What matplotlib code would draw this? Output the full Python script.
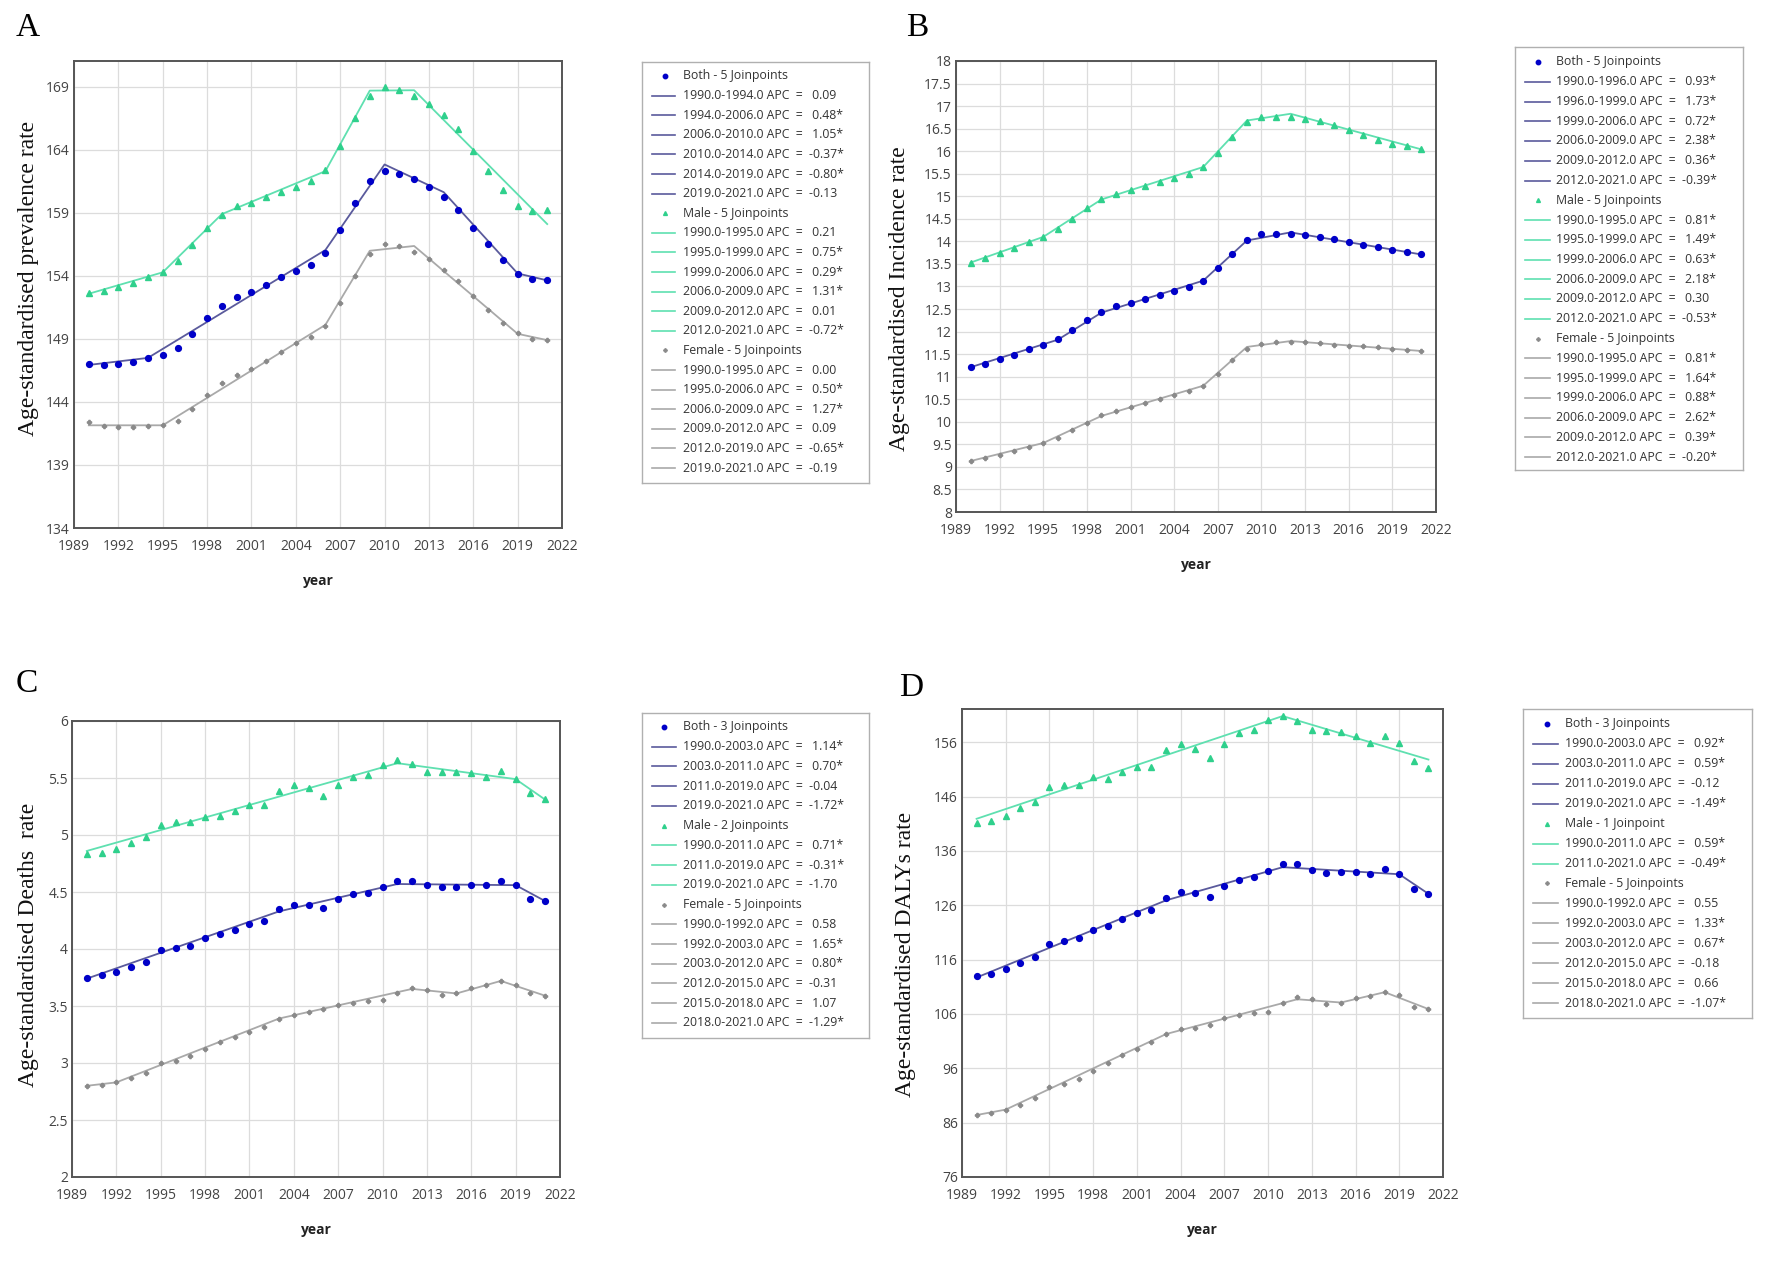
import numpy as np
import matplotlib
matplotlib.use('Agg')
import matplotlib.pyplot as plt
from matplotlib.ticker import FuncFormatter

# tamanho final em pixels
W, H = 1772, 1262

years = np.arange(1990, 2022)

# ---------------- A: prevalence ----------------
A_both = [147.0, 146.94, 147.0, 147.18, 147.5, 147.76, 148.26, 149.41, 150.68, 151.62, 152.35,
          152.71, 153.29, 153.88, 154.41, 154.88, 155.79, 157.68, 159.79, 161.56, 162.35, 162.12,
          161.71, 161.09, 160.26, 159.26, 157.79, 156.5, 155.24, 154.18, 153.76, 153.68]
A_both_jp = [1990, 1994, 2006, 2010, 2014, 2019, 2021]
A_both_fit = [146.94, 147.5, 156.06, 162.85, 160.65, 154.2, 153.65]
A_both_apc = ['0.09', '0.48*', '1.05*', '-0.37*', '-0.80*', '-0.13']

A_male = [152.68, 152.82, 153.12, 153.44, 153.94, 154.32, 155.18, 156.47, 157.79, 158.85, 159.53,
          159.82, 160.26, 160.68, 161.03, 161.53, 162.41, 164.35, 166.56, 168.32, 169.03, 168.74,
          168.32, 167.65, 166.79, 165.65, 163.91, 162.32, 160.82, 159.59, 159.18, 159.21]
A_male_jp = [1990, 1995, 1999, 2006, 2009, 2012, 2021]
A_male_fit = [152.59, 154.29, 158.91, 162.32, 168.71, 168.74, 158.12]
A_male_apc = ['0.21', '0.75*', '0.29*', '1.31*', '0.01', '-0.72*']

A_female = [142.38, 142.12, 142.0, 142.0, 142.12, 142.18, 142.5, 143.44, 144.56, 145.47, 146.18,
            146.59, 147.29, 148.0, 148.65, 149.18, 150.06, 151.88, 153.97, 155.76, 156.53, 156.35,
            155.91, 155.32, 154.47, 153.62, 152.38, 151.32, 150.29, 149.44, 149.0, 148.91]
A_female_jp = [1990, 1995, 2006, 2009, 2012, 2019, 2021]
A_female_fit = [142.15, 142.15, 150.12, 156.0, 156.38, 149.41, 148.91]
A_female_apc = ['0.00', '0.50*', '1.27*', '0.09', '-0.65*', '-0.19']

# ---------------- B: incidence ----------------
B_both = [11.21, 11.29, 11.39, 11.49, 11.61, 11.71, 11.84, 12.04, 12.25, 12.43, 12.56, 12.64,
          12.73, 12.81, 12.89, 12.98, 13.13, 13.41, 13.73, 14.02, 14.16, 14.16, 14.17, 14.15,
          14.10, 14.05, 13.98, 13.93, 13.87, 13.80, 13.76, 13.71]
B_both_jp = [1990, 1996, 1999, 2006, 2009, 2012, 2021]
B_both_fit = [11.21, 11.82, 12.42, 13.13, 14.02, 14.2, 13.71]
B_both_apc = ['0.93*', '1.73*', '0.72*', '2.38*', '0.36*', '-0.39*']

B_male = [13.53, 13.64, 13.74, 13.85, 13.98, 14.10, 14.27, 14.50, 14.73, 14.94, 15.06, 15.13,
          15.22, 15.31, 15.40, 15.49, 15.65, 15.97, 16.32, 16.64, 16.75, 16.75, 16.75, 16.72,
          16.67, 16.58, 16.47, 16.36, 16.25, 16.15, 16.11, 16.05]
B_male_jp = [1990, 1995, 1999, 2006, 2009, 2012, 2021]
B_male_fit = [13.53, 14.10, 14.93, 15.65, 16.68, 16.83, 16.04]
B_male_apc = ['0.81*', '1.49*', '0.63*', '2.18*', '0.30', '-0.53*']

B_female = [9.13, 9.19, 9.27, 9.36, 9.44, 9.53, 9.64, 9.81, 9.98, 10.14, 10.25, 10.33, 10.42,
            10.51, 10.60, 10.68, 10.80, 11.07, 11.36, 11.62, 11.72, 11.76, 11.77, 11.76, 11.74,
            11.71, 11.68, 11.67, 11.65, 11.62, 11.60, 11.57]
B_female_jp = [1990, 1995, 1999, 2006, 2009, 2012, 2021]
B_female_fit = [9.13, 9.53, 10.13, 10.80, 11.66, 11.79, 11.57]
B_female_apc = ['0.81*', '1.64*', '0.88*', '2.62*', '0.39*', '-0.20*']

# ---------------- C: deaths ----------------
C_both = [3.75, 3.77, 3.80, 3.84, 3.89, 3.99, 4.01, 4.03, 4.10, 4.13, 4.17, 4.22, 4.25, 4.35,
          4.39, 4.39, 4.36, 4.44, 4.48, 4.49, 4.54, 4.60, 4.60, 4.56, 4.54, 4.54, 4.56, 4.56,
          4.60, 4.56, 4.44, 4.42]
C_both_jp = [1990, 2003, 2011, 2019, 2021]
C_both_fit = [3.74, 4.33, 4.57, 4.56, 4.42]
C_both_apc = ['1.14*', '0.70*', '-0.04', '-1.72*']

C_male = [4.83, 4.84, 4.88, 4.93, 4.98, 5.09, 5.11, 5.11, 5.16, 5.17, 5.21, 5.26, 5.26, 5.39,
          5.44, 5.41, 5.34, 5.44, 5.51, 5.53, 5.61, 5.66, 5.62, 5.55, 5.55, 5.55, 5.54, 5.51,
          5.56, 5.49, 5.37, 5.32]
C_male_jp = [1990, 2011, 2019, 2021]
C_male_fit = [4.86, 5.63, 5.49, 5.31]
C_male_apc = ['0.71*', '-0.31*', '-1.70']

C_female = [2.80, 2.81, 2.83, 2.87, 2.91, 3.00, 3.02, 3.06, 3.12, 3.18, 3.23, 3.27, 3.32, 3.39,
            3.42, 3.45, 3.47, 3.51, 3.53, 3.54, 3.55, 3.61, 3.66, 3.64, 3.60, 3.61, 3.66, 3.68,
            3.72, 3.68, 3.61, 3.59]
C_female_jp = [1990, 1992, 2003, 2012, 2015, 2018, 2021]
C_female_fit = [2.80, 2.83, 3.39, 3.65, 3.61, 3.72, 3.59]
C_female_apc = ['0.58', '1.65*', '0.80*', '-0.31', '1.07', '-1.29*']

# ---------------- D: DALYs ----------------
D_both = [112.9, 113.3, 114.2, 115.3, 116.5, 118.9, 119.4, 119.9, 121.4, 122.2, 123.5, 124.6,
          125.2, 127.4, 128.4, 128.2, 127.6, 129.6, 130.7, 131.2, 132.3, 133.5, 133.5, 132.5,
          132.0, 132.1, 132.2, 131.7, 132.7, 131.8, 129.0, 128.1]
D_both_jp = [1990, 2003, 2011, 2019, 2021]
D_both_fit = [112.7, 126.9, 133.0, 131.7, 128.1]
D_both_apc = ['0.92*', '0.59*', '-0.12', '-1.49*']

D_male = [141.1, 141.5, 142.4, 143.9, 145.0, 147.7, 148.1, 148.1, 149.5, 149.3, 150.6, 151.5,
          151.5, 154.5, 155.7, 154.8, 153.1, 155.7, 157.6, 158.2, 160.0, 160.9, 159.9, 158.2,
          158.0, 157.8, 157.1, 155.9, 157.2, 155.9, 152.5, 151.2]
D_male_jp = [1990, 2011, 2021]
D_male_fit = [141.9, 160.8, 152.8]
D_male_apc = ['0.59*', '-0.49*']

D_female = [87.4, 87.8, 88.4, 89.3, 90.5, 92.6, 93.2, 94.1, 95.5, 97.0, 98.4, 99.6, 100.8,
            102.3, 103.2, 103.5, 104.0, 105.3, 105.8, 106.1, 106.3, 108.0, 109.1, 108.7, 107.8,
            108.0, 108.9, 109.3, 110.1, 109.5, 107.2, 106.9]
D_female_jp = [1990, 1992, 2003, 2012, 2015, 2018, 2021]
D_female_fit = [87.4, 88.4, 102.3, 108.7, 108.1, 110.0, 106.9]
D_female_apc = ['0.55', '1.33*', '0.67*', '-0.18', '0.66', '-1.07*']


# estilos (marcador, cor do ponto, cor da linha, tamanho)
STY = {
    'Both':   dict(marker='o', pc='#0000c8', lc='#5a5a9c', ms=4.2, lms=3.2),
    'Male':   dict(marker='^', pc='#2fd08c', lc='#5fe0b0', ms=3.8, lms=2.8),
    'Female': dict(marker='P', pc='#8a8a8a', lc='#a9a9a9', ms=3.0, lms=2.4),
}

TICK_FONT = 'Open Sans'
SERIF = 'Liberation Serif'
LEG_SIZE = 8.8

fig = plt.figure(figsize=(W / 100, H / 100), dpi=100)


def px_axes(x0, y0, x1, y1):
    return fig.add_axes([x0 / W, 1 - y1 / H, (x1 - x0) / W, (y1 - y0) / H])


def draw_panel(box, series, ylim, yticks, ylabel, lab_xy, letter, letter_xy):
    ax = px_axes(*box)
    for name, data, jp, fit in series:
        s = STY[name]
        ax.plot(years, data, ls='none', marker=s['marker'], ms=s['ms'],
                color=s['pc'], mec=s['pc'], zorder=3)
        ax.plot(jp, fit, color=s['lc'], lw=1.3, zorder=2)
    ax.set_xlim(1989, 2022)
    ax.set_xticks(np.arange(1989, 2023, 3))
    ax.set_ylim(*ylim)
    ax.set_yticks(yticks)
    ax.yaxis.set_major_formatter(FuncFormatter(lambda v, p: '{:g}'.format(round(v, 2))))
    ax.grid(color='#dcdcdc', lw=0.9)
    ax.set_axisbelow(True)
    ax.tick_params(length=0, labelsize=10, labelcolor='#444')
    ax.tick_params(axis='x', pad=8)
    ax.tick_params(axis='y', pad=3)
    for lab in ax.get_xticklabels() + ax.get_yticklabels():
        lab.set_family(TICK_FONT)
    for sp in ax.spines.values():
        sp.set_color('#555555')
        sp.set_linewidth(1.4)
    ax.set_xlabel('year', family=TICK_FONT, fontweight='bold', fontsize=10,
                  color='#222', labelpad=14)
    ax.set_ylabel(ylabel, family=SERIF, fontsize=17, color='#111')
    ax.yaxis.label.set_va('center')
    ax.yaxis.set_label_coords((lab_xy[0] - box[0]) / (box[2] - box[0]),
                              (box[3] - lab_xy[1]) / (box[3] - box[1]))
    fig.text(letter_xy[0] / W, 1 - letter_xy[1] / H, letter, family=SERIF,
             fontsize=24, ha='center', va='center')
    return ax


def draw_legend(box, y0, step, hx, mx, tx, groups):
    lax = px_axes(*box)
    lax.set_xlim(box[0], box[2])
    lax.set_ylim(box[3], box[1])
    lax.set_xticks([])
    lax.set_yticks([])
    for sp in lax.spines.values():
        sp.set_color('#b0b0b0')
        sp.set_linewidth(1.0)
    y = y0
    for name, jp, apc in groups:
        s = STY[name]
        n = len(jp) - 2
        head = '{} - {} Joinpoint{}'.format(name, n, '' if n == 1 else 's')
        lax.plot([mx], [y], ls='none', marker=s['marker'], ms=s['lms'], color=s['pc'])
        lax.text(tx, y, head, family=TICK_FONT, fontsize=LEG_SIZE, color='#333', va='center')
        y += step
        for a, b, v in zip(jp[:-1], jp[1:], apc):
            gap = '  ' if v.startswith('-') else '   '
            lax.plot(hx, [y, y], color=s['lc'], lw=1.2)
            lax.text(tx, y, '{:.1f}-{:.1f} APC  ={}{}'.format(a, b, gap, v),
                     family=TICK_FONT, fontsize=LEG_SIZE, color='#333', va='center')
            y += step


# A
draw_panel((74, 61, 562, 528),
           [('Female', A_female, A_female_jp, A_female_fit),
            ('Both', A_both, A_both_jp, A_both_fit),
            ('Male', A_male, A_male_jp, A_male_fit)],
           (134, 171.06), np.arange(134, 170, 5), 'Age-standardised prevalence rate',
           (29, 278), 'A', (28, 28))
draw_legend((642, 62, 869, 483), 76, 19.6, [652, 675], 665, 683,
            [('Both', A_both_jp, A_both_apc),
             ('Male', A_male_jp, A_male_apc),
             ('Female', A_female_jp, A_female_apc)])

# B
draw_panel((956, 61, 1436, 512),
           [('Female', B_female, B_female_jp, B_female_fit),
            ('Both', B_both, B_both_jp, B_both_fit),
            ('Male', B_male, B_male_jp, B_male_fit)],
           (8, 18), np.arange(8, 18.01, 0.5), 'Age-standardised Incidence rate',
           (900, 299), 'B', (917, 28))
draw_legend((1515, 47, 1743, 470), 62, 19.75, [1525, 1550], 1538, 1556,
            [('Both', B_both_jp, B_both_apc),
             ('Male', B_male_jp, B_male_apc),
             ('Female', B_female_jp, B_female_apc)])

# C
draw_panel((72, 721, 560, 1177),
           [('Female', C_female, C_female_jp, C_female_fit),
            ('Both', C_both, C_both_jp, C_both_fit),
            ('Male', C_male, C_male_jp, C_male_fit)],
           (2, 6), np.arange(2, 6.01, 0.5), 'Age-standardised Deaths  rate',
           (29, 945), 'C', (27, 684))
draw_legend((642, 713, 869, 1038), 727, 19.73, [652, 676], 664, 683,
            [('Both', C_both_jp, C_both_apc),
             ('Male', C_male_jp, C_male_apc),
             ('Female', C_female_jp, C_female_apc)])

# D
draw_panel((962, 709, 1443, 1177),
           [('Female', D_female, D_female_jp, D_female_fit),
            ('Both', D_both, D_both_jp, D_both_fit),
            ('Male', D_male, D_male_jp, D_male_fit)],
           (76, 162.1), np.arange(76, 157, 10), 'Age-standardised DALYs rate',
           (906, 954), 'D', (911, 688))
draw_legend((1523, 709, 1752, 1018), 724, 19.93, [1533, 1558], 1547, 1565,
            [('Both', D_both_jp, D_both_apc),
             ('Male', D_male_jp, D_male_apc),
             ('Female', D_female_jp, D_female_apc)])

fig.savefig('out.png', dpi=100, facecolor='white')
